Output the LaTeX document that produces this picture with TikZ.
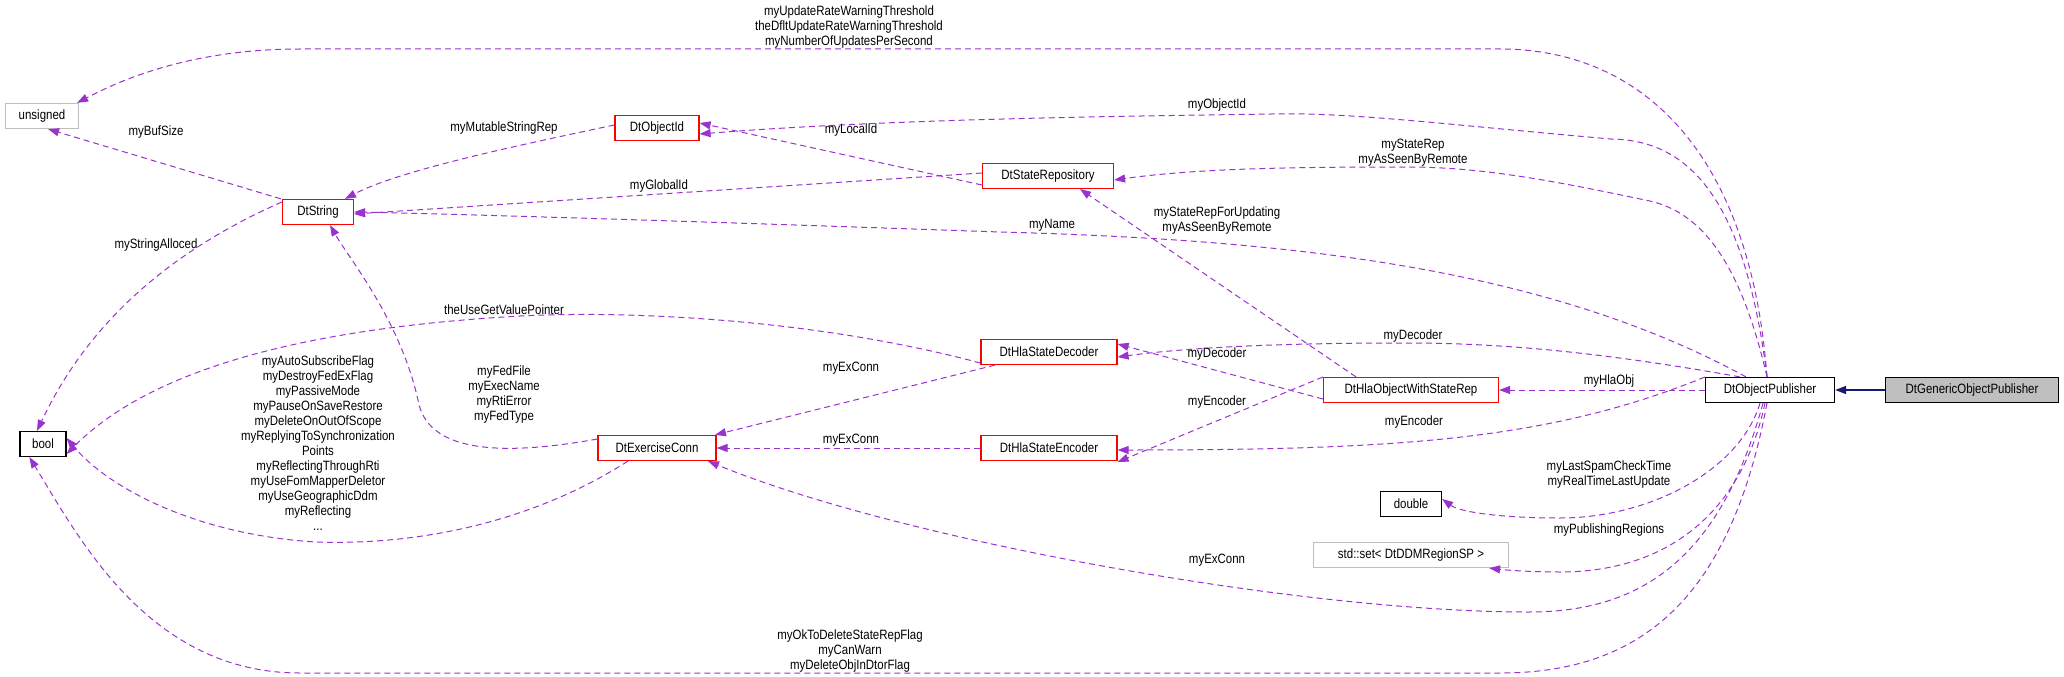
\documentclass[tikz,border=0pt]{standalone}
\usepackage{fontspec}
\setmainfont{Liberation Sans}[FakeStretch=0.85]
\usetikzlibrary{arrows.meta,calc}
\definecolor{dp}{HTML}{9A32CD}
\definecolor{mb}{HTML}{191970}
\begin{document}
\begin{tikzpicture}[x=1pt,y=-1pt,
  every node/.style={font=\fontsize{13.5}{15}\selectfont},
  box/.style={draw,line width=1.2pt,inner sep=0pt,minimum height=25pt,fill=white},
  rbox/.style={box,draw=red},
  gbox/.style={box,draw=black!25},
  kbox/.style={box,draw=black},
  lab/.style={align=center,inner sep=0pt},
  use/.style={draw=dp,line width=1pt,dash pattern=on 6pt off 4pt,-{Triangle[length=11pt,width=8pt]},shorten >=0pt},
  inh/.style={draw=mb,line width=1.4pt,-{Triangle[length=11pt,width=8pt]}}]
\useasboundingbox (0,0) rectangle (2064,677);
% nodes
\node[gbox,minimum width=73pt] (uns) at (42,116) {unsigned};
\node[rbox,minimum width=71pt] (str) at (318,212) {DtString};
\node[rbox,minimum width=84pt] (oid) at (657,128) {DtObjectId};
\node[rbox,minimum width=131pt] (rep) at (1048,176) {DtStateRepository};
\node[kbox,minimum width=46pt] (bool) at (43,444) {bool};
\node[rbox,minimum width=118pt] (ex) at (657,448) {DtExerciseConn};
\node[rbox,minimum width=136pt] (dec) at (1049,352) {DtHlaStateDecoder};
\node[rbox,minimum width=136pt] (enc) at (1049,448) {DtHlaStateEncoder};
\node[rbox,minimum width=175pt] (hla) at (1411,390) {DtHlaObjectWithStateRep};
\node[kbox,minimum width=129pt] (pub) at (1770,390) {DtObjectPublisher};
\node[kbox,minimum width=173pt,fill=black!25] (gen) at (1972,390) {DtGenericObjectPublisher};
\node[kbox,minimum width=61pt] (dbl) at (1411,504) {double};
\node[gbox,minimum width=195pt] (set) at (1411,555) {std::set< DtDDMRegionSP >};
% edges
\draw[inh] (gen) -- (pub);
\draw[use] ([xshift=-3pt]pub.north) .. controls (1750,150) and (1640,49) .. (1500,49) -- (300,49) .. controls (200,49) and (130,75) .. ([xshift=-2pt]uns.north east);
\draw[use] ([xshift=-3pt]pub.north) .. controls (1745,200) and (1690,140) .. (1611,139) .. controls (1450,125) and (1350,112) .. (1271,114) .. controls (1150,116) and (900,118) .. ([yshift=-6pt]oid.east);
\draw[use] ([xshift=-3pt]pub.north) .. controls (1740,260) and (1700,210) .. (1645,200) .. controls (1550,180) and (1480,167) .. (1407,167) .. controls (1300,167) and (1200,168) .. ([yshift=-4pt]rep.east);
\draw[use] ([xshift=-24pt]pub.north) .. controls (1550,270) and (1300,240) .. (1000,232) .. controls (800,225) and (500,215) .. (str.east);
\draw[use] ([yshift=-9pt]rep.west) -- ([yshift=5pt]oid.east);
\draw[use] ([yshift=3pt]rep.west) -- ([yshift=-2pt]str.east);
\draw[use] ([yshift=3pt]oid.west) .. controls (520,145) and (400,170) .. ([xshift=27pt]str.north);
\draw[use] ([xshift=-37pt]str.north) -- ([xshift=-31pt]uns.south east);
\draw[use] ([yshift=10pt]str.west) .. controls (150,260) and (80,340) .. ([xshift=-6pt]bool.north);
\draw[use] ([xshift=-55pt]hla.north) -- ([xshift=32pt]rep.south);
\draw[use] ([xshift=-30pt]pub.north) .. controls (1600,352) and (1500,343) .. (1407,343) .. controls (1300,343) and (1200,346) .. ([yshift=-5pt]dec.east);
\draw[use] ([yshift=-9pt]hla.west) -- ([yshift=8pt]dec.east);
\draw[use] (pub.west) -- (hla.east);
\draw[use] ([yshift=13pt]hla.west) -- ([yshift=-14pt]enc.east);
\draw[use] ([yshift=13pt]pub.west) .. controls (1550,440) and (1400,450) .. ([yshift=-2pt]enc.east);
\draw[use] ([xshift=-54pt]dec.south) -- ([xshift=58pt]ex.north);
\draw[use] (enc.west) -- (ex.east);
\draw[use] ([xshift=-7pt]pub.south) .. controls (1720,560) and (1640,612) .. (1529,612) .. controls (1300,612) and (900,540) .. ([xshift=51pt]ex.south);
\draw[use] ([xshift=-10pt]pub.south) .. controls (1740,470) and (1650,518) .. (1560,518) .. controls (1500,518) and (1460,512) .. ([yshift=5pt]dbl.east);
\draw[use] ([xshift=-5pt]pub.south) .. controls (1740,520) and (1660,572) .. (1560,572) .. controls (1530,572) and (1505,570) .. ([xshift=-20pt]set.south east);
\draw[use] ([xshift=-3pt]pub.south) .. controls (1730,600) and (1640,673) .. (1500,673) -- (300,673) .. controls (150,673) and (80,540) .. ([xshift=10pt]bool.south west);
\draw[use] ([xshift=-29pt]ex.south) .. controls (520,530) and (400,545) .. (316,542) .. controls (200,535) and (110,490) .. ([yshift=6pt]bool.east);
\draw[use] ([yshift=9pt]ex.west) .. controls (470,462) and (425,440) .. (418,400) .. controls (400,320) and (350,260) .. ([xshift=12pt]str.south);
\draw[use] ([yshift=-11pt]dec.west) .. controls (800,315) and (600,310) .. (504,317) .. controls (300,330) and (150,370) .. ([yshift=-10pt]bool.east);
% labels
\node[lab] (l1) at (849,27) {myUpdateRateWarningThreshold\\theDfltUpdateRateWarningThreshold\\myNumberOfUpdatesPerSecond};
\node[lab] (l2) at (156,132) {myBufSize};
\node[lab] (l3) at (504,128) {myMutableStringRep};
\node[lab] (l4) at (851,130) {myLocalId};
\node[lab] (l5) at (659,186) {myGlobalId};
\node[lab] (l6) at (1052,225) {myName};
\node[lab] (l7) at (156,245) {myStringAlloced};
\node[lab] (l8) at (504,310) {theUseGetValuePointer};
\node[lab] (l9) at (318,443) {myAutoSubscribeFlag\\myDestroyFedExFlag\\myPassiveMode\\myPauseOnSaveRestore\\myDeleteOnOutOfScope\\myReplyingToSynchronization\\Points\\myReflectingThroughRti\\myUseFomMapperDeletor\\myUseGeographicDdm\\myReflecting\\...};
\node[lab] (l10) at (504,395) {myFedFile\\myExecName\\myRtiError\\myFedType};
\node[lab] (l11) at (851,368) {myExConn};
\node[lab] (l12) at (851,440) {myExConn};
\node[lab] (l13) at (850,651) {myOkToDeleteStateRepFlag\\myCanWarn\\myDeleteObjInDtorFlag};
\node[lab] (l14) at (1217,105) {myObjectId};
\node[lab] (l15) at (1413,153) {myStateRep\\myAsSeenByRemote};
\node[lab] (l16) at (1217,221) {myStateRepForUpdating\\myAsSeenByRemote};
\node[lab] (l17) at (1413,336) {myDecoder};
\node[lab] (l18) at (1217,354) {myDecoder};
\node[lab] (l19) at (1609,381) {myHlaObj};
\node[lab] (l20) at (1217,402) {myEncoder};
\node[lab] (l21) at (1414,422) {myEncoder};
\node[lab] (l22) at (1609,475) {myLastSpamCheckTime\\myRealTimeLastUpdate};
\node[lab] (l23) at (1609,530) {myPublishingRegions};
\node[lab] (l24) at (1217,560) {myExConn};
\end{tikzpicture}
\end{document}
